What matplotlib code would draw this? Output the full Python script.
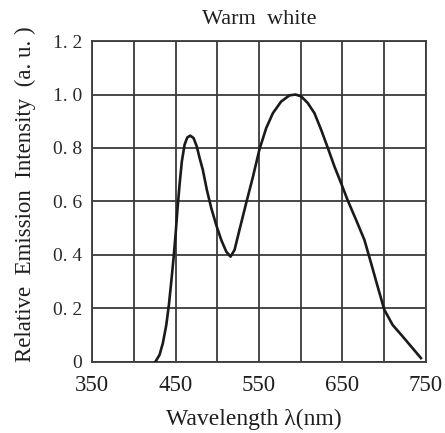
import matplotlib
matplotlib.use("Agg")
import matplotlib.pyplot as plt

plt.rcParams['font.family'] = ['Liberation Serif', 'DejaVu Serif']

# emission spectrum (nm, a.u.)
wavelength = [426.0, 430.8, 434.8, 438.9, 442.0, 444.9, 447.6, 450.0, 452.4, 454.8,
              457.5, 460.8, 464.0, 467.6, 471.6, 475.5, 479.0, 482.7, 487.5, 492.8,
              498.7, 504.7, 510.7, 515.9, 520.7, 526.6, 534.6, 542.6, 550.6, 558.6,
              566.6, 576.6, 586.6, 593.8, 600.6, 608.5, 616.5, 624.5, 632.5, 640.5,
              648.4, 656.4, 666.3, 676.3, 684.3, 692.2, 700.2, 710.2, 722.2, 734.1,
              744.1]
intensity = [0.0, 0.025, 0.069, 0.137, 0.212, 0.30, 0.387, 0.475, 0.575, 0.662,
             0.749, 0.812, 0.839, 0.846, 0.837, 0.805, 0.76, 0.718, 0.643, 0.575,
             0.512, 0.456, 0.412, 0.393, 0.418, 0.493, 0.593, 0.690, 0.795, 0.874,
             0.93, 0.974, 0.997, 1.0, 0.993, 0.968, 0.93, 0.868, 0.80, 0.73,
             0.668, 0.603, 0.531, 0.456, 0.369, 0.281, 0.194, 0.137, 0.094, 0.05,
             0.013]

x_grid = [350, 400, 450, 500, 550, 600, 650, 700, 750]
x_ticks = [350, 450, 550, 650, 750]
x_labels = ['350', '450', '550', '650', '750']
y_ticks = [0, 0.2, 0.4, 0.6, 0.8, 1.0, 1.2]
y_labels = ['0', '0. 2', '0. 4', '0. 6', '0. 8', '1. 0', '1. 2']

fig = plt.figure(figsize=(4.45, 4.33), dpi=100)
ax = fig.add_axes([0.207, 0.165, 0.75, 0.74])

grid_col = '#3a3a3a'
txt_col = '#1e1e1e'
for xv in x_grid:
    ax.axvline(xv, color=grid_col, lw=1.3, zorder=1)
for yv in y_ticks:
    ax.axhline(yv, color=grid_col, lw=1.3, zorder=1)

ax.plot(wavelength, intensity, color='#1a1a1a', lw=1.9, solid_joinstyle='round', zorder=3)

ax.set_xlim(350, 750)
ax.set_ylim(0, 1.2)
ax.set_xticks(x_ticks)
ax.set_xticklabels(x_labels, fontsize=16.5, color=txt_col)
ax.set_yticks(y_ticks)
ax.set_yticklabels(y_labels, fontsize=14, color='#2a2a2a')
ax.tick_params(length=0)
ax.tick_params(axis='x', pad=10)
ax.tick_params(axis='y', pad=7)
for s in ax.spines.values():
    s.set_color(grid_col)
    s.set_linewidth(1.3)

ax.set_title('Warm  white', fontsize=16, color=txt_col, pad=12)
ax.set_xlabel('Wavelength λ(nm)', fontsize=17, color=txt_col)
ax.set_ylabel('Relative  Emission  Intensity  (a. u. )', fontsize=16.5, color=txt_col)
ax.xaxis.set_label_coords(0.485, -0.148)
ax.yaxis.set_label_coords(-0.168, 0.522)

fig.savefig('out.png', dpi=100)
